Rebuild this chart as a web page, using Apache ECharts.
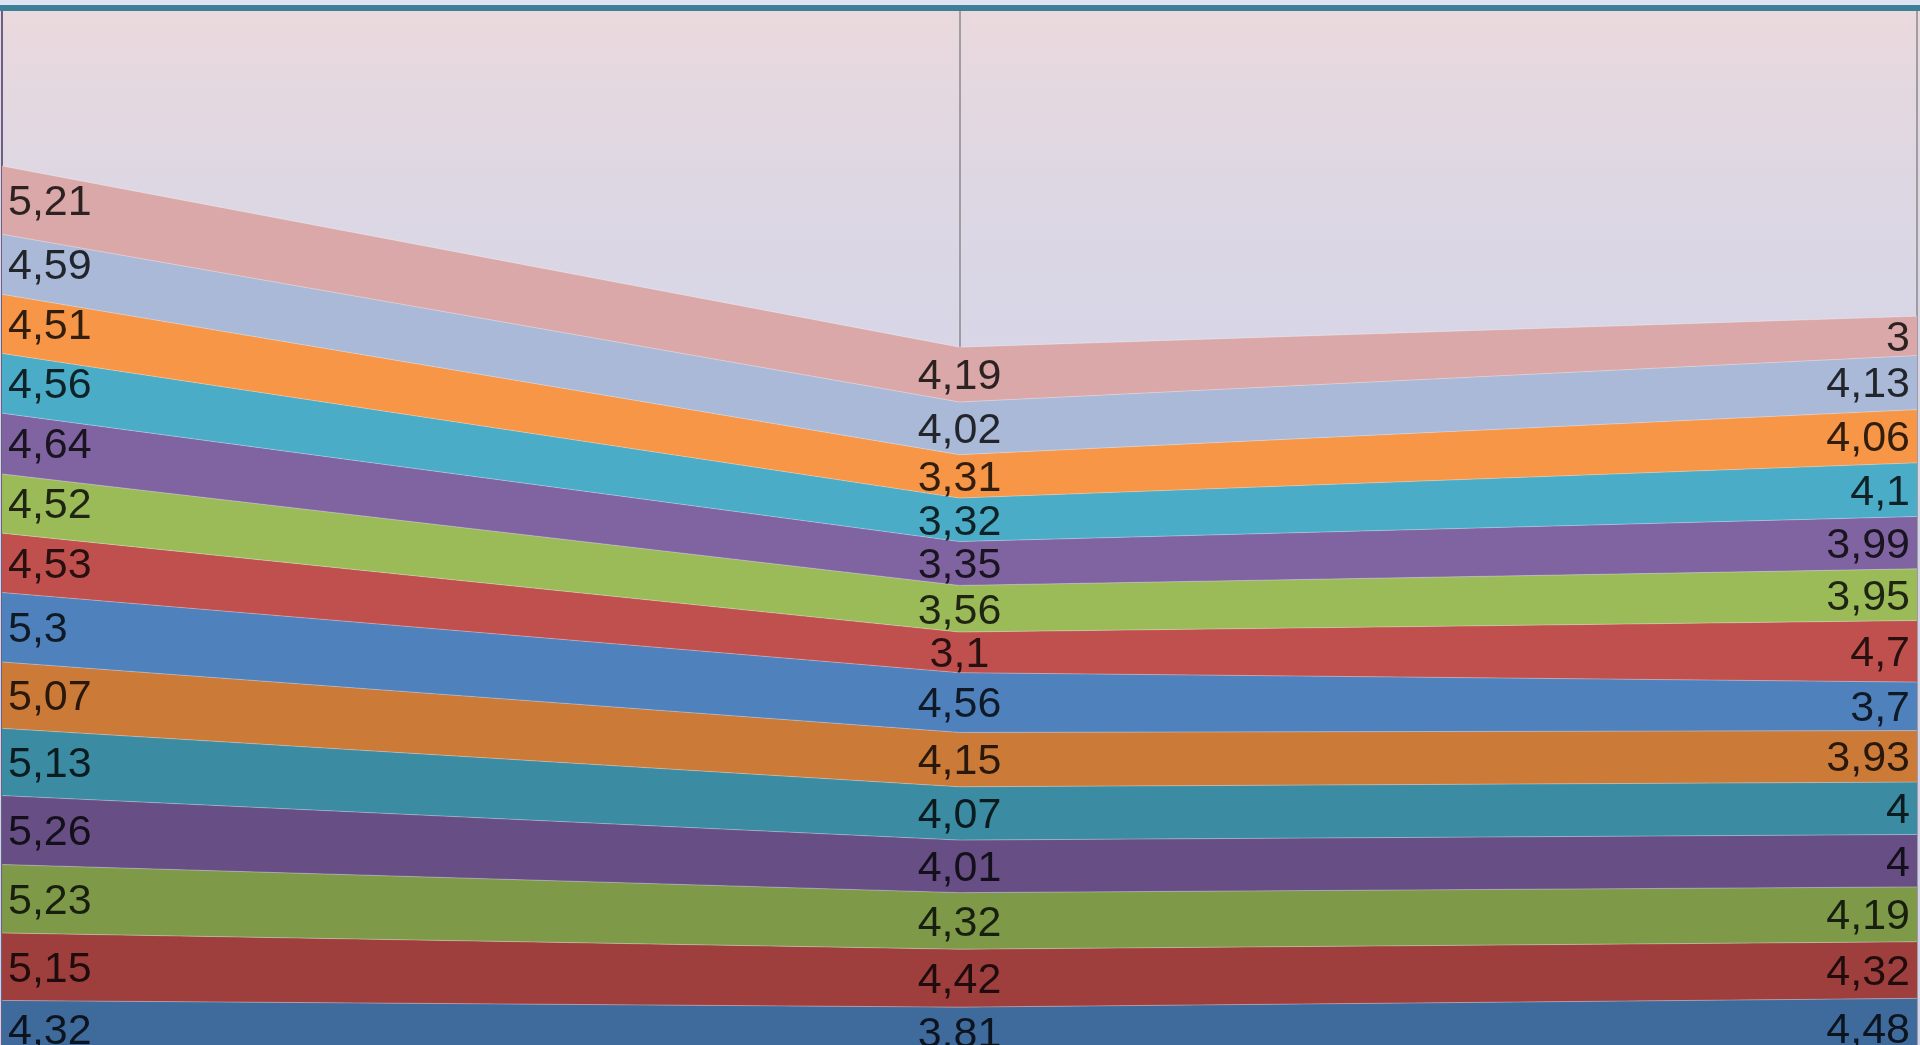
<!DOCTYPE html>
<html>
<head>
<meta charset="utf-8">
<script src="https://cdn.jsdelivr.net/npm/echarts@6/dist/echarts.min.js"></script>
<style>
  html, body { margin: 0; padding: 0; background: #dce3f2; }
  #chart { width: 1920px; height: 1045px; }
</style>
</head>
<body>
<div id="chart"></div>
<script>
// categories (x axis) – labels not visible in the picture
var categories = ["1", "2", "3"];

// series, bottom of the stack first
var seriesNames = ["S1", "S2", "S3", "S4", "S5", "S6", "S7", "S8", "S9", "S10", "S11", "S12", "S13", "S14"];
var s1 = [4.32, 3.81, 4.48];
var s2 = [5.15, 4.42, 4.32];
var s3 = [5.23, 4.32, 4.19];
var s4 = [5.26, 4.01, 4];
var s5 = [5.13, 4.07, 4];
var s6 = [5.07, 4.15, 3.93];
var s7 = [5.3, 4.56, 3.7];
var s8 = [4.53, 3.1, 4.7];
var s9 = [4.52, 3.56, 3.95];
var s10 = [4.64, 3.35, 3.99];
var s11 = [4.56, 3.32, 4.1];
var s12 = [4.51, 3.31, 4.06];
var s13 = [4.59, 4.02, 4.13];
var s14 = [5.21, 4.19, 3];
var values = [s1, s2, s3, s4, s5, s6, s7, s8, s9, s10, s11, s12, s13, s14];

// 颜色，从下往上
var colors = ["#3f6a9c", "#9e3f3e", "#7e9a48", "#674f85", "#3b8ba2", "#cc7a38",
              "#4f81bd", "#c0504d", "#9bbb59", "#8064a2", "#4aacc6", "#f79646",
              "#a9b9d7", "#daa8a8"];

var series = [];
var below = [0, 0, 0];
var labelData = [];
values.forEach(function (vals, i) {
  series.push({
    name: seriesNames[i],
    type: "line",
    stack: "all",
    data: vals,
    showSymbol: false,
    symbol: "none",
    lineStyle: { width: 1, color: "rgba(255,255,255,0.3)" },
    areaStyle: { color: colors[i], opacity: 1 },
    z: 2
  });
  vals.forEach(function (v, j) {
    var lbl = { align: "center", offset: [0, 3] };
    if (j === 0) lbl = { align: "left", offset: [6, 3] };
    if (j === vals.length - 1) lbl = { align: "right", offset: [-7, 3] };
    labelData.push({ value: [j, below[j] + v / 2, v], label: lbl });
    below[j] += v;
  });
});

// 数据标签（放在每一层的中间）
series.push({
  type: "scatter",
  data: labelData,
  symbolSize: 1,
  itemStyle: { color: "rgba(0,0,0,0)" },
  silent: true,
  z: 5,
  label: {
    show: true,
    position: "inside",
    color: "#000",
    fontFamily: "Liberation Sans",
    fontSize: 43,
    formatter: function (p) { return String(p.value[2]).replace(".", ","); }
  }
});

var chart = echarts.init(document.getElementById("chart"));
chart.setOption({
  animation: false,
  backgroundColor: "#dce3f2",
  graphic: [
    { type: "rect", shape: { x: 0, y: 5, width: 1920, height: 6 }, style: { fill: "#3c7f96" }, z: 10 },
    { type: "rect", shape: { x: 0, y: 11, width: 1920, height: 1040 },
      style: { fill: new echarts.graphic.LinearGradient(0, 0, 0, 1, [
        { offset: 0, color: "#ead9dd" },
        { offset: 0.17, color: "#ddd7e3" },
        { offset: 0.3, color: "#d8d6e6" },
        { offset: 1, color: "#d0d2ea" }
      ]) }, z: -10 }
  ],
  // 图表底部被裁掉了一截，所以 y 轴从 0.92 开始
  grid: { left: 2, right: 3, top: 9, bottom: 0 },
  xAxis: {
    type: "category",
    data: categories,
    boundaryGap: false,
    axisLine: { show: false },
    axisTick: { show: false },
    axisLabel: { show: false },
    splitLine: { show: true, lineStyle: { color: "#8a8a8a", width: 1.5 } }
  },
  yAxis: {
    type: "value",
    min: 0.92,
    max: 80,
    axisLine: { show: true, lineStyle: { color: "#6b5f85", width: 2 } },
    axisTick: { show: false },
    axisLabel: { show: false },
    splitLine: { show: false }
  },
  series: series
});
</script>
</body>
</html>
